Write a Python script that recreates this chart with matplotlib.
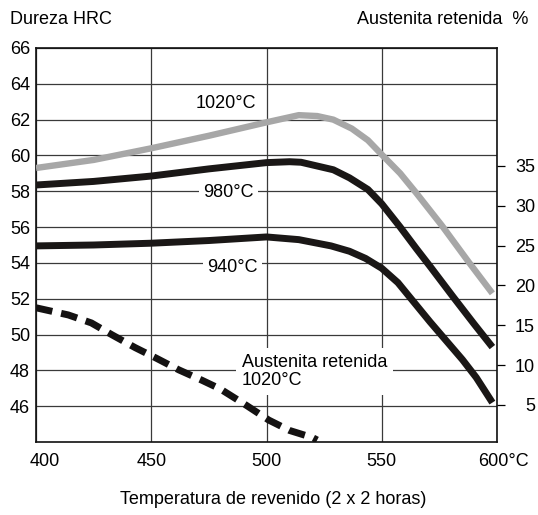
import matplotlib
matplotlib.use('Agg')
import matplotlib.pyplot as plt
from matplotlib.transforms import ScaledTranslation

plt.rcParams['font.family'] = ['Liberation Sans', 'DejaVu Sans']
plt.rcParams['font.size'] = 13

# ---- data ----
t_1020 = [400, 425, 450, 475, 500, 514, 522, 529, 537, 544, 550, 558, 565, 576, 588, 598]
hrc_1020 = [59.3, 59.75, 60.4, 61.1, 61.85, 62.25, 62.2, 62.0, 61.5, 60.85, 60.05, 59.0, 57.9, 56.1, 54.0, 52.3]

t_980 = [400, 425, 450, 475, 500, 510, 515, 529, 536, 544, 550, 558, 565, 571, 581, 590, 598]
hrc_980 = [58.35, 58.55, 58.85, 59.25, 59.6, 59.65, 59.62, 59.2, 58.75, 58.1, 57.3, 56.0, 54.8, 53.8, 52.1, 50.6, 49.3]

t_940 = [400, 425, 450, 475, 500, 514, 528, 536, 543, 550, 557, 564, 571, 578, 585, 591, 598]
hrc_940 = [54.95, 55.0, 55.1, 55.25, 55.45, 55.3, 54.95, 54.65, 54.25, 53.7, 52.9, 51.8, 50.7, 49.65, 48.6, 47.6, 46.2]

t_aust = [400, 414, 424, 433, 443, 452, 462, 472, 480, 491, 501, 510, 520, 522]
pct_aust = [17.2, 16.3, 15.3, 13.8, 12.2, 10.9, 9.4, 8.1, 7.0, 5.0, 3.1, 1.8, 0.9, 0.6]

x_ticks = [400, 450, 500, 550, 600]
x_labels = ['400', '450', '500', '550', '600°C']
y_ticks = [46, 48, 50, 52, 54, 56, 58, 60, 62, 64, 66]
y2_ticks = [5, 10, 15, 20, 25, 30, 35]

# ---- figure ----
W, H = 538, 515
fig = plt.figure(figsize=(W / 100, H / 100), dpi=100)
L, R, T, B = 36, 497, 48, 442
ax = fig.add_axes([L / W, 1 - B / H, (R - L) / W, (B - T) / H])
ax.set_xlim(400, 600)
ax.set_ylim(44, 66)

ax.set_xticks(x_ticks)
ax.set_xticklabels(x_labels)
ax.set_yticks(y_ticks)
ax.tick_params(axis='x', length=0, pad=8, labelsize=13)
ax.tick_params(axis='y', length=0, pad=4.3, labelsize=13)
ax.grid(True, color='#3a3a3a', linewidth=0.9)
ax.set_axisbelow(True)
for s in ax.spines.values():
    s.set_linewidth(1.2)
    s.set_color('#111111')

labs = ax.get_xticklabels()
labs[0].set_transform(labs[0].get_transform() + ScaledTranslation(9 / 100, 0, fig.dpi_scale_trans))
labs[-1].set_transform(labs[-1].get_transform() + ScaledTranslation(6 / 100, 0, fig.dpi_scale_trans))

ax.plot(t_1020, hrc_1020, color='#a7a7a7', linewidth=4.6, solid_capstyle='butt', solid_joinstyle='round', zorder=4)
ax.plot(t_980, hrc_980, color='#1a1716', linewidth=5.0, solid_capstyle='butt', solid_joinstyle='round', zorder=4)
ax.plot(t_940, hrc_940, color='#1a1716', linewidth=5.0, solid_capstyle='butt', solid_joinstyle='round', zorder=4)

box = dict(facecolor='white', edgecolor='none', pad=3)
ax.text(482.4, 62.9, '1020°C', ha='center', va='center', fontsize=13, zorder=3)
ax.text(483.5, 57.95, '980°C', ha='center', va='center', fontsize=13, bbox=box, zorder=3)
ax.text(485.2, 53.75, '940°C', ha='center', va='center', fontsize=13, bbox=box, zorder=3)
ax.text(489.3, 47.95, 'Austenita retenida\n1020°C', ha='left', va='center', fontsize=13,
        multialignment='left', linespacing=1.1, bbox=dict(facecolor='white', edgecolor='none', pad=4), zorder=3)

# right axis for retained austenite (%)
ax2 = ax.twinx()
ax2.set_ylim((444.8 - B) / 7.967, (444.8 - T) / 7.967)
ax2.set_yticks(y2_ticks)
ax2.tick_params(axis='y', direction='out', length=5.8, width=0.9, pad=21.6, labelsize=13)
for lab in ax2.get_yticklabels():
    lab.set_ha('right')
for s in ax2.spines.values():
    s.set_visible(False)
ax2.plot(t_aust, pct_aust, color='#141212', linewidth=5.0, linestyle=(0, (2.4, 1.3)),
         dash_capstyle='butt', zorder=5)

fig.text(10 / W, 1 - 19 / H, 'Dureza HRC', ha='left', va='center', fontsize=13)
fig.text(528 / W, 1 - 19 / H, 'Austenita retenida  %', ha='right', va='center', fontsize=13)
fig.text(273 / W, 1 - 500 / H, 'Temperatura de revenido (2 x 2 horas)', ha='center', va='center', fontsize=13)

fig.savefig('out.png', dpi=100)
